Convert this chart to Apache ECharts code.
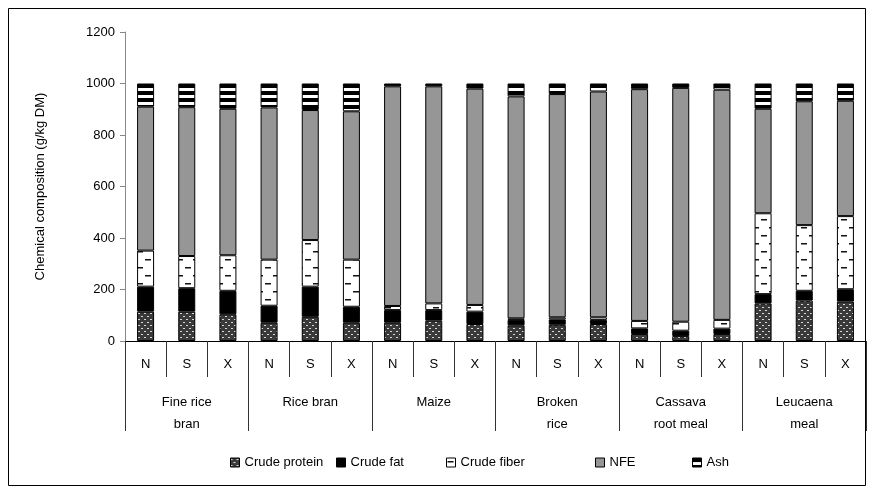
<!DOCTYPE html>
<html lang="en">
<head>
<meta charset="UTF-8">
<title>Chemical composition</title>
<style>html,body{margin:0;padding:0;background:#fff}</style>
</head>
<body>
<div id="main" style="width:872px;height:493px;"></div>
<script src="https://cdn.jsdelivr.net/npm/echarts@6/dist/echarts.min.js"></script>
<script>
// sites repeat for each feed
const sites = ['N', 'S', 'X', 'N', 'S', 'X', 'N', 'S', 'X', 'N', 'S', 'X', 'N', 'S', 'X', 'N', 'S', 'X'];
const feeds = ['Fine rice\nbran', 'Rice bran', 'Maize', 'Broken\nrice', 'Cassava\nroot meal', 'Leucaena\nmeal'];
const yTicks = [0, 200, 400, 600, 800, 1000, 1200];

// g/kg DM
const crudeProtein = [114, 114, 104, 71, 94, 71, 71, 79, 66, 61, 63, 66, 27, 19, 27, 146, 157, 153];
const crudeFat = [97, 91, 91, 66, 117, 62, 49, 41, 48, 21, 21, 16, 22, 21, 21, 36, 38, 48];
const crudeFiber = [140, 125, 138, 179, 181, 183, 16, 26, 26, 6, 8, 10, 29, 35, 34, 314, 255, 284];
const nfe = [559, 578, 569, 591, 505, 576, 853, 843, 840, 862, 867, 877, 900, 908, 894, 406, 481, 448];
const ash = [90, 92, 98, 93, 103, 108, 11, 11, 20, 50, 41, 31, 22, 17, 24, 98, 69, 67];

function pattern(w, h, draw) {
    let c = document.createElement('canvas');
    c.width = w;
    c.height = h;
    let ctx = c.getContext('2d');
    draw(ctx);
    return { image: c, repeat: 'repeat' };
}

// dark checker with light dots
let proteinFill = pattern(6, 6, function (ctx) {
    ctx.fillStyle = '#3a3a3a';
    ctx.fillRect(0, 0, 6, 6);
    ctx.fillStyle = '#d8d8d8';
    ctx.fillRect(0, 1, 2, 1);
    ctx.fillRect(3, 4, 2, 1);
});
// white with short staggered dashes
let fiberFill = pattern(16, 16, function (ctx) {
    ctx.fillStyle = '#fff';
    ctx.fillRect(0, 0, 16, 16);
    ctx.fillStyle = '#111';
    ctx.fillRect(1, 3, 6, 1.5);
    ctx.fillRect(9, 11, 6, 1.5);
});
// horizontal stripes
let ashFill = pattern(4, 7, function (ctx) {
    ctx.fillStyle = '#fff';
    ctx.fillRect(0, 0, 4, 7);
    ctx.fillStyle = '#000';
    ctx.fillRect(0, 0, 4, 4);
});

const FONT = 'Liberation Sans';

function bar(name, data, fill) {
    return {
        name: name,
        type: 'bar',
        stack: 'total',
        barWidth: 17,
        data: data,
        itemStyle: { color: fill, borderColor: '#000', borderWidth: 1 },
        emphasis: { disabled: true }
    };
}

function legendAt(name, left) {
    return {
        data: [name],
        left: left,
        top: 456,
        padding: 0,
        icon: 'rect',
        itemWidth: 9,
        itemHeight: 9,
        itemStyle: { borderColor: '#000', borderWidth: 1 },
        textStyle: { fontFamily: FONT, fontSize: 13, color: '#000' },
        selectedMode: false
    };
}

let chart = echarts.init(document.getElementById('main'));
chart.setOption({
    animation: false,
    textStyle: { fontFamily: FONT },
    graphic: [{
        type: 'rect',
        shape: { x: 8.5, y: 8.5, width: 857, height: 477 },
        style: { fill: 'none', stroke: '#000', lineWidth: 1 },
        silent: true
    }],
    legend: [
        legendAt('Crude protein', 230),
        legendAt('Crude fat', 336),
        legendAt('Crude fiber', 446),
        legendAt('NFE', 595),
        legendAt('Ash', 692)
    ],
    grid: { left: 125, right: 6, top: 32, bottom: 152 },
    xAxis: [{
        type: 'category',
        data: sites,
        position: 'bottom',
        axisLine: { show: true, lineStyle: { color: '#000', width: 1 } },
        axisTick: { show: true, interval: 0, length: 36, lineStyle: { color: '#333' } },
        axisLabel: { margin: 17, fontSize: 13, color: '#000', fontFamily: FONT, interval: 0 }
    }, {
        type: 'category',
        data: feeds,
        position: 'bottom',
        axisLine: { show: true, lineStyle: { color: '#000', width: 1 } },
        axisTick: { show: true, interval: 0, length: 90, lineStyle: { color: '#333' } },
        axisLabel: { margin: 50, fontSize: 13, lineHeight: 22, color: '#000', fontFamily: FONT, interval: 0 }
    }],
    yAxis: {
        type: 'value',
        min: yTicks[0],
        max: yTicks[yTicks.length - 1],
        interval: 200,
        name: 'Chemical composition (g/kg DM)',
        nameLocation: 'middle',
        nameGap: 78,
        nameTextStyle: { fontSize: 13, color: '#000', fontFamily: FONT },
        axisLine: { show: true, lineStyle: { color: '#888' } },
        axisTick: { show: true, length: 5, lineStyle: { color: '#888' } },
        axisLabel: {
            fontSize: 13, color: '#000', fontFamily: FONT, margin: 10,
            formatter: function (v) { return String(v); }
        },
        splitLine: { show: false }
    },
    series: [
        bar('Crude protein', crudeProtein, proteinFill),
        bar('Crude fat', crudeFat, '#000'),
        bar('Crude fiber', crudeFiber, fiberFill),
        bar('NFE', nfe, '#969696'),
        bar('Ash', ash, ashFill)
    ]
});
</script>
</body>
</html>
